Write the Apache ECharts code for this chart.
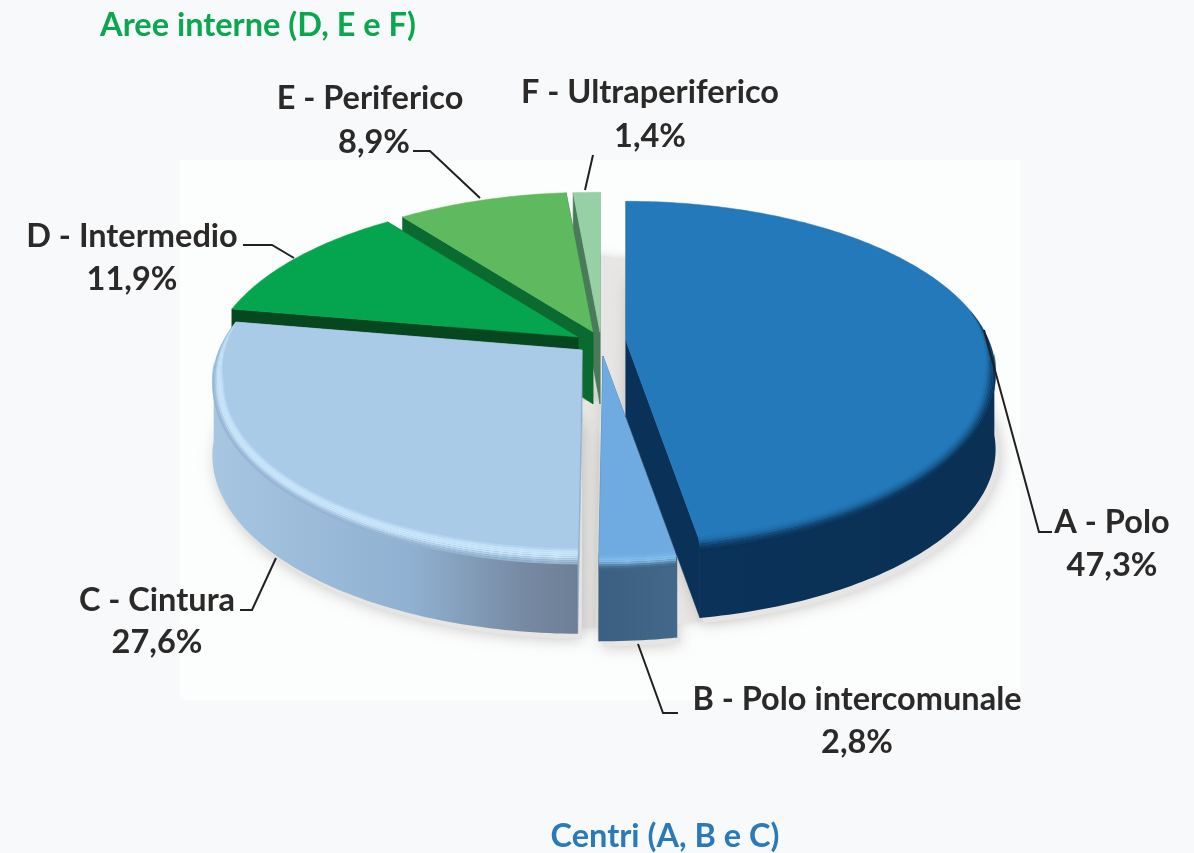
<!DOCTYPE html>
<html>
<head>
<meta charset="utf-8">
<style>
    html, body { margin: 0; padding: 0; background: #f8f9fb; }
    #chart { width: 1194px; height: 853px; }
</style>
<script src="https://cdn.jsdelivr.net/npm/echarts@6/dist/echarts.min.js"></script>
</head>
<body>
<div id="chart"></div>
<script>
// data
const categories = ['A - Polo', 'B - Polo intercomunale', 'C - Cintura', 'D - Intermedio', 'E - Periferico', 'F - Ultraperiferico']
const values = [47.3, 2.8, 27.6, 11.9, 8.9, 1.4]
const groupTitles = ['Aree interne (D, E e F)', 'Centri (A, B e C)']

// pie geometry: a tilted disc with some perspective
const pie = { cx: 600, cy: 340, rx: 363, ry: 166, persp: 0.188 }
const explode = [[26, 1], [3, 16], [-18, 10], [-22, -3], [-7, -8], [0, -8]]
const depthBase = [76, 72, 72, 72, 72, 72]
const depthSlope = [0, 38, 32, 48, 48, 48]

const topColors = ['#2479bb', '#6fabe0', '#a9cbe8', '#05a54f', '#5fb95f', '#98d0a5']
const edgeColors = ['#0a3158', '#3d6384', '#8fb0d0', '#07471f', '#0a6a30', '#4a7a5a']
const bevelColors = [
    ['#2276b7', '#2070ad', '#1c659f', '#175a8f', '#134c7d', '#0f4069', '#0c375f', '#0a3158'],
    ['#72aee2', '#77b3e6', '#7fbcec', '#82bdeb', '#7aaed9', '#5b88ae', '#47708f', '#3f6587'],
    ['#b4d5ef', '#c4e2f8', '#c9e6fa', '#c9e6fa', '#c6e3f8', '#b4d2ea', '#a0bfda', '#94b4d2'],
    [], [], []
]
const wallStops = [
    [[0, '#0b3259'], [1, '#0a3054']],
    [[0, '#3a5f80'], [1, '#44688a']],
    [[0, '#a6c6e2'], [0.55, '#8fb0d0'], [0.85, '#778aa3'], [1, '#6d7f96']],
    [[0, '#07471f'], [1, '#07471f']],
    [[0, '#0a6a30'], [1, '#0a6a30']],
    [[0, '#4a7a5a'], [1, '#4a7a5a']]
]

const leaders = [
    [[984, 330], [1039, 532], [1052, 532]],
    [[638, 644], [663, 713], [678, 713]],
    [[276, 558], [252, 610], [240, 610]],
    [[243, 245], [272, 245], [294, 258]],
    [[413, 151], [430, 151], [480, 198]],
    [[593, 155], [585, 190]]
]
const labelPos = [[1112, 523, 1112, 566], [857, 700, 857, 743], [157, 601, 157, 643], [132, 237, 132, 280], [370, 99, 374, 143], [650, 93, 650, 137]]

const total = values.reduce((a, b) => a + b, 0)
const angles = []
let acc = 0
values.forEach(v => {
    angles.push([acc / total * Math.PI * 2, (acc + v) / total * Math.PI * 2])
    acc += v
})

const project = (i, theta) => {
    let u = Math.sin(theta)
    let v = -Math.cos(theta)
    let s = 1 / (1 - pie.persp * v)
    return {
        x: pie.cx + explode[i][0] + pie.rx * u * s,
        y: pie.cy + explode[i][1] + pie.ry * v * s,
        s: s, u: u, v: v
    }
}
const apexOf = i => [pie.cx + explode[i][0], pie.cy + explode[i][1]]
const depthOf = (i, s) => depthBase[i] + depthSlope[i] * (s - 1)

const rimPoints = i => {
    let pts = []
    let n = Math.max(6, Math.ceil((angles[i][1] - angles[i][0]) * 60))
    for (let k = 0; k <= n; k++) {
        pts.push(project(i, angles[i][0] + (angles[i][1] - angles[i][0]) * k / n))
    }
    return pts
}
const polygon = (points, fill, extra) => ({
    type: 'polygon',
    shape: { points: points },
    style: Object.assign({ fill: fill, stroke: typeof fill === 'string' ? fill : null, lineWidth: 0.5 }, extra || {})
})

// bottom plane of every slice, blurred, gives the soft grey shadow
const renderShadow = (params, api) => {
    let i = api.value(0)
    let a = apexOf(i)
    let rim = rimPoints(i)
    let pts = [[a[0], a[1] + depthBase[i]]].concat(rim.map(p => [p.x + 4, p.y + depthOf(i, p.s) + 5]))
    // same slice without the explode offset, so the gaps between slices are grey too
    let closed = [[pie.cx, pie.cy + 62]].concat(rim.map(p => [
        p.x - explode[i][0],
        p.y - explode[i][1] + 68 * p.s
    ]))
    return {
        type: 'group',
        children: [
            polygon(closed, '#e7e6e4', { shadowBlur: 10, shadowColor: 'rgba(190,185,180,0.5)', stroke: null }),
            polygon(pts, '#e6e5e3', { shadowBlur: 16, shadowColor: 'rgba(150,145,140,0.55)', stroke: null })
        ]
    }
}

const renderSlice = (params, api) => {
    let i = api.value(0)
    let a = apexOf(i)
    let rim = rimPoints(i)
    let first = rim[0]
    let last = rim[rim.length - 1]
    let apexLow = [a[0], a[1] + depthBase[i]]
    let children = []

    // radial walls
    children.push(polygon([a, [first.x, first.y], [first.x, first.y + depthOf(i, first.s)], apexLow], edgeColors[i]))
    children.push(polygon([a, [last.x, last.y], [last.x, last.y + depthOf(i, last.s)], apexLow], edgeColors[i]))

    // outer wall, only the front part of the rim can be seen
    let front = rim.filter(p => p.v > 0.1)
    if (front.length > 1) {
        let wall = front.map(p => [p.x, p.y - 6]).concat(front.slice().reverse().map(p => [p.x, p.y + depthOf(i, p.s)]))
        children.push(polygon(wall, new echarts.graphic.LinearGradient(0, 0, 1, 0,
            wallStops[i].map(s => ({ offset: s[0], color: s[1] })))))
    }

    // top face
    children.push(polygon([a].concat(rim.map(p => [p.x, p.y])), topColors[i]))

    // rounded rim: thin bands across the edge, fading out towards the back
    let bevel = bevelColors[i]
    let bevelRim = rim.filter(p => p.v > -0.2)
    bevel.forEach((color, b) => {
        let band = h => bevelRim.map(p => {
            let fade = Math.min(1, Math.max(0, (p.v + 0.2) / 0.4))
            return [
                p.x + p.u * fade * (-12 + 12 * h),
                p.y + p.v * fade * (-6 + 16 * h)
            ]
        })
        let upper = band(b / bevel.length)
        let lower = band((b + 1) / bevel.length)
        children.push(polygon(upper.concat(lower.reverse()), color, { stroke: null }))
    })
    return { type: 'group', children: children }
}

const renderLabel = (params, api) => {
    let i = api.value(0)
    let pos = labelPos[i]
    let font = 'bold 32.5px Lato, sans-serif'
    let text = (t, x, y) => ({
        type: 'text',
        style: { text: t, x: x, y: y, fill: '#2b2a29', font: font, align: 'center', verticalAlign: 'middle' }
    })
    return {
        type: 'group',
        children: [
            {
                type: 'polyline',
                shape: { points: leaders[i] },
                style: { stroke: '#231f20', lineWidth: 2, fill: null }
            },
            text(categories[i], pos[0], pos[1]),
            text(values[i].toFixed(1).replace('.', ',') + '%', pos[2], pos[3])
        ]
    }
}

const drawOrder = [5, 4, 3, 2, 1, 0]
const orderData = drawOrder.map(i => [i])

const option = {
    backgroundColor: '#f8f9fb',
    animation: false,
    title: [
        {
            text: groupTitles[0], left: 258, top: 26, padding: 0, textAlign: 'center', textVerticalAlign: 'middle',
            textStyle: { color: '#0ba650', fontSize: 32.5, fontWeight: 'bold', fontFamily: 'Lato' }
        },
        {
            text: groupTitles[1], left: 665, top: 837, padding: 0, textAlign: 'center', textVerticalAlign: 'middle',
            textStyle: { color: '#2a7ab9', fontSize: 32.5, fontWeight: 'bold', fontFamily: 'Lato' }
        }
    ],
    graphic: [{
        type: 'rect', silent: true, z: 0,
        shape: { x: 180, y: 160, width: 840, height: 540 },
        style: { fill: '#fcfdfd' }
    }],
    series: [
        { type: 'custom', coordinateSystem: 'none', z: 2, silent: true, renderItem: renderShadow, data: orderData },
        { type: 'custom', coordinateSystem: 'none', z: 3, silent: true, renderItem: renderSlice, data: orderData },
        { type: 'custom', coordinateSystem: 'none', z: 4, silent: true, renderItem: renderLabel, data: orderData }
    ]
}

const EC = echarts.init(document.getElementById('chart'))
EC.setOption(option)
</script>
</body>
</html>
